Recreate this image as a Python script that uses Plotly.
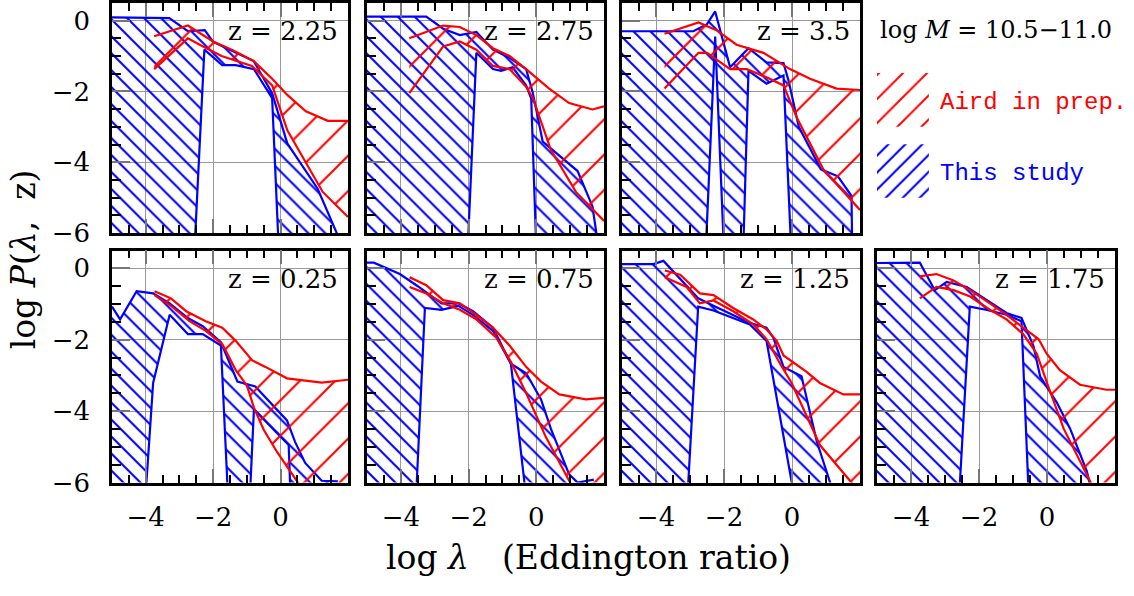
import plotly.graph_objects as go

# ------------------------------------------------------------------ data
# log P values that lie below the plotted range (log P -> -inf) are given as -7.0

# z = 2.25
b225_up_x = [-5.0, -3.3, -2.75, -2.25, -2.0, -1.45, -0.8, -0.25, 0.2, 1.1, 1.8]
b225_up_y = [0.09, 0.07, -0.3, -0.27, -0.6, -0.85, -1.14, -2.05, -3.47, -4.75, -6.3]
b225_lo_x = [-5.0, -2.58, -2.26, -1.73, -1.33, -0.79, -0.25, -0.03, 2.0]
b225_lo_y = [-7.0, -7.0, -0.82, -1.26, -1.26, -1.37, -2.19, -7.0, -7.0]
r225_up_x = [-3.75, -2.75, -2.0, -1.45, -0.8, -0.25, 0.2, 0.75, 1.4, 2.0]
r225_up_y = [-0.44, -0.14, -0.59, -0.82, -1.14, -1.64, -2.1, -2.56, -2.83, -2.83]
r225_lo_x = [-3.75, -2.75, -2.3, -1.75, -0.85, -0.25, 0.2, 0.75, 1.25, 2.0]
r225_lo_y = [-1.37, -0.5, -0.73, -1.0, -1.28, -1.83, -3.1, -4.0, -4.84, -5.55]

# z = 2.75
b275_up_x = [-5.0, -3.25, -2.75, -2.26, -1.77, -1.28, -0.79, -0.3, -0.1, 0.19, 1.22, 1.66, 1.85]
b275_up_y = [0.11, 0.11, -0.23, -0.41, -0.32, -0.82, -1.05, -1.37, -2.05, -3.42, -4.25, -5.25, -6.5]
b275_lo_x = [-5.0, -2.05, -1.77, -1.28, -1.04, -0.7, -0.3, -0.15, 0.02, 2.0]
b275_lo_y = [-7.0, -7.0, -0.91, -1.37, -1.42, -1.32, -1.83, -2.2, -7.0, -7.0]
r275_up_x = [-3.75, -2.75, -2.26, -1.77, -1.28, -0.79, -0.3, 0.38, 0.97, 1.66, 2.0]
r275_up_y = [-0.5, -0.14, -0.18, -0.41, -0.78, -1.0, -1.37, -1.92, -2.33, -2.51, -2.42]
r275_lo_x = [-3.75, -2.75, -2.26, -1.77, -1.28, -0.79, -0.3, -0.1, 0.43, 1.17, 2.0]
r275_lo_y = [-2.05, -0.73, -0.59, -0.82, -1.28, -1.37, -1.87, -2.19, -3.65, -4.84, -5.66]

# z = 3.5
b350_up_x = [-5.0, -2.9, -2.5, -2.26, -1.82, -1.28, -0.75, -0.25, -0.1, 0.2, 0.85, 1.35, 1.75, 1.78]
b350_up_y = [-0.3, -0.3, -0.1, 0.26, -1.32, -0.78, -1.18, -1.2, -1.7, -3.0, -4.2, -4.4, -4.95, -7.0]
b350_lo_x = [-5.0, -2.56, -2.26, -1.98, -1.45, -1.28, -0.75, -0.25, 0.0, 2.0]
b350_lo_y = [-7.0, -7.0, -0.45, -7.0, -7.0, -1.42, -1.78, -1.55, -7.0, -7.0]
r350_up_x = [-3.75, -2.75, -2.22, -1.63, -0.84, -0.06, 0.53, 1.31, 2.0]
r350_up_y = [-0.37, -0.05, -0.27, -0.68, -0.91, -1.37, -1.64, -1.92, -1.96]
r350_lo_x = [-3.75, -2.75, -2.5, -1.82, -1.33, -0.75, -0.25, 0.14, 0.92, 2.0]
r350_lo_y = [-1.92, -0.91, -0.91, -1.37, -1.37, -1.6, -1.83, -2.74, -4.2, -5.35]

# z = 0.25
b025_up_x = [-5.0, -4.76, -4.27, -3.78, -3.29, -2.75, -2.31, -1.77, -1.28, -0.75, 0.19, 0.43, 0.73, 1.22, 1.7]
b025_up_y = [-1.07, -1.43, -0.64, -0.7, -0.98, -1.39, -1.62, -2.07, -3.17, -3.31, -4.26, -4.86, -5.45, -5.95, -5.97]
b025_lo_x = [-5.0, -4.05, -3.78, -3.29, -2.75, -2.31, -1.77, -1.53, -0.94, -0.79, 0.24, 0.32, 2.0]
b025_lo_y = [-7.0, -7.0, -3.21, -1.3, -1.84, -1.84, -2.16, -7.0, -7.0, -3.95, -4.95, -7.0, -7.0]
r025_up_x = [-3.74, -3.25, -2.8, -2.22, -1.73, -1.33, -0.84, -0.45, 0.19, 1.22, 2.0]
r025_up_y = [-0.64, -0.84, -1.2, -1.48, -1.66, -2.03, -2.58, -2.76, -3.08, -3.2, -3.12]
r025_lo_x = [-3.74, -3.25, -2.7, -2.22, -1.73, -1.33, -1.0, -0.79, -0.5, -0.1, 0.55, 0.62, 2.0]
r025_lo_y = [-0.75, -1.05, -1.48, -1.75, -2.12, -2.85, -3.28, -3.9, -4.52, -5.15, -6.05, -7.0, -7.0]

# z = 0.75
b075_up_x = [-5.0, -4.8, -4.03, -3.5, -2.8, -2.3, -1.87, -1.28, -0.75, -0.3, 0.14, 0.43, 0.97, 1.22, 1.7]
b075_up_y = [0.16, 0.16, -0.16, -0.5, -0.98, -0.98, -1.2, -1.66, -2.67, -2.94, -3.67, -4.49, -5.77, -6.0, -5.92]
b075_lo_x = [-5.0, -3.58, -3.29, -2.8, -2.3, -1.87, -1.28, -0.75, -0.23, 2.0]
b075_lo_y = [-7.0, -7.0, -1.11, -1.16, -1.05, -1.3, -1.75, -2.67, -7.0, -7.0]
r075_up_x = [-3.74, -3.25, -2.75, -2.26, -1.77, -1.28, -0.79, -0.3, 0.14, 0.68, 1.46, 2.0]
r075_up_y = [-0.25, -0.47, -0.89, -0.98, -1.3, -1.66, -2.16, -2.76, -3.17, -3.53, -3.67, -3.63]
r075_lo_x = [-3.74, -3.25, -2.75, -2.26, -1.77, -1.18, -0.75, -0.3, 0.28, 1.0, 1.56, 2.0]
r075_lo_y = [-0.52, -0.7, -0.98, -1.16, -1.43, -1.94, -2.62, -3.49, -4.72, -6.0, -7.0, -7.0]

# z = 1.25
b125_up_x = [-5.0, -4.08, -3.78, -2.76, -2.31, -1.24, -0.75, -0.55, -0.25, 0.28, 0.73, 1.46]
b125_up_y = [0.12, 0.12, 0.21, -0.84, -1.05, -1.53, -1.66, -1.94, -2.76, -3.02, -4.85, -7.0]
b125_lo_x = [-5.0, -3.11, -2.76, -2.31, -1.24, -0.75, 0.18, 2.0]
b125_lo_y = [-7.0, -7.0, -1.07, -1.18, -1.57, -2.03, -7.0, -7.0]
r125_up_x = [-3.74, -3.29, -2.71, -2.31, -1.73, -1.14, -0.75, -0.45, -0.25, 0.43, 0.82, 1.51, 2.0]
r125_up_y = [-0.06, -0.18, -0.7, -0.75, -1.11, -1.43, -1.71, -2.03, -2.44, -2.9, -3.21, -3.53, -3.53]
r125_lo_x = [-3.74, -3.1, -2.71, -2.31, -1.73, -1.14, -0.75, -0.35, -0.01, 0.82, 1.75, 2.0]
r125_lo_y = [-0.25, -0.52, -0.98, -0.9, -1.2, -1.57, -1.98, -2.67, -3.21, -4.95, -6.0, -6.3]

# z = 1.75
b175_up_x = [-5.0, -3.74, -3.3, -2.95, -2.36, -1.72, -1.19, -0.75, -0.4, -0.2, 0.29, 0.68, 1.17, 1.5]
b175_up_y = [0.15, 0.16, -0.61, -0.38, -0.52, -0.93, -1.25, -1.39, -2.17, -3.03, -3.76, -4.49, -5.68, -7.0]
b175_lo_x = [-5.0, -2.62, -2.27, -1.8, -1.19, -0.75, -0.51, 2.0]
b175_lo_y = [-7.0, -7.0, -1.07, -1.16, -1.3, -1.48, -7.0, -7.0]
r175_up_x = [-3.74, -3.25, -2.75, -2.26, -1.68, -1.19, -0.7, -0.25, -0.01, 0.38, 0.97, 1.75, 2.0]
r175_up_y = [-0.22, -0.16, -0.34, -0.61, -0.98, -1.3, -1.66, -1.98, -2.39, -2.85, -3.26, -3.4, -3.4]
r175_lo_x = [-3.74, -3.25, -2.75, -2.26, -1.68, -1.19, -0.7, -0.3, 0.0, 0.49, 0.97, 1.55, 2.0]
r175_lo_y = [-0.84, -0.52, -0.61, -0.79, -1.16, -1.43, -1.84, -2.39, -3.21, -4.49, -5.4, -6.5, -7.0]

z_labels = ["2.25", "2.75", "3.5", "0.25", "0.75", "1.25", "1.75"]
x_ticks = [-4, -2, 0]
y_ticks = [0, -2, -4, -6]
mass_label = "log <i>M</i> = 10.5\u221211.0"
series_names = ["Aird in prep.", "This study"]

# panel order: top row (z=2.25, 2.75, 3.5), bottom row (z=0.25 ... 1.75)
blue_data = [
    (b225_up_x, b225_up_y, b225_lo_x, b225_lo_y),
    (b275_up_x, b275_up_y, b275_lo_x, b275_lo_y),
    (b350_up_x, b350_up_y, b350_lo_x, b350_lo_y),
    (b025_up_x, b025_up_y, b025_lo_x, b025_lo_y),
    (b075_up_x, b075_up_y, b075_lo_x, b075_lo_y),
    (b125_up_x, b125_up_y, b125_lo_x, b125_lo_y),
    (b175_up_x, b175_up_y, b175_lo_x, b175_lo_y),
]
red_data = [
    (r225_up_x, r225_up_y, r225_lo_x, r225_lo_y),
    (r275_up_x, r275_up_y, r275_lo_x, r275_lo_y),
    (r350_up_x, r350_up_y, r350_lo_x, r350_lo_y),
    (r025_up_x, r025_up_y, r025_lo_x, r025_lo_y),
    (r075_up_x, r075_up_y, r075_lo_x, r075_lo_y),
    (r125_up_x, r125_up_y, r125_lo_x, r125_lo_y),
    (r175_up_x, r175_up_y, r175_lo_x, r175_lo_y),
]
panel_pos = [(0, 0), (0, 1), (0, 2), (1, 0), (1, 1), (1, 2), (1, 3)]  # (row, col)

# ------------------------------------------------------------------ layout geometry / style
W, H = 1134, 596
COL_PX = [(112, 348), (367, 604), (622, 860), (877, 1115)]
ROW_PX = [(3, 239), (257, 495)]
BLUE = "#0000ff"
RED = "#ff0000"
SERIF = "DejaVu Serif"
MONO = "Liberation Mono"


def dom_x(c):
    return [COL_PX[c][0] / W, COL_PX[c][1] / W]


def dom_y(r):
    return [1 - ROW_PX[r][1] / H, 1 - ROW_PX[r][0] / H]


fig = go.Figure()


def hatch(shape, color, size, solidity):
    return dict(shape=shape, fgcolor=color, fgopacity=1, bgcolor="rgba(0,0,0,0)",
                size=size, solidity=solidity, fillmode="overlay")


def add_region(ux, uy, lx, ly, color, shape, size, solidity, ax):
    xs = list(ux) + list(lx)[::-1]
    ys = list(uy) + list(ly)[::-1]
    fig.add_trace(go.Scatter(
        x=xs, y=ys, mode="none", fill="toself", fillcolor="rgba(0,0,0,0)",
        fillpattern=hatch(shape, color, size, solidity),
        xaxis="x" + ax, yaxis="y" + ax, hoverinfo="skip", showlegend=False))
    for cx, cy in ((ux, uy), (lx, ly)):
        fig.add_trace(go.Scatter(
            x=cx, y=cy, mode="lines", line=dict(color=color, width=2.2),
            xaxis="x" + ax, yaxis="y" + ax, hoverinfo="skip", showlegend=False))


layout = dict(
    width=W, height=H, margin=dict(l=0, r=0, t=0, b=0),
    paper_bgcolor="white", plot_bgcolor="white", showlegend=False,
)
annotations = []

for i, (r, c) in enumerate(panel_pos):
    n = i + 1
    ax = "" if n == 1 else str(n)
    bu_x, bu_y, bl_x, bl_y = blue_data[i]
    ru_x, ru_y, rl_x, rl_y = red_data[i]
    add_region(bu_x, bu_y, bl_x, bl_y, BLUE, "\\", 12, 0.17, ax)
    add_region(ru_x, ru_y, rl_x, rl_y, RED, "/", 25, 0.085, ax)

    layout["xaxis" + ax] = dict(
        domain=dom_x(c), anchor="y" + ax, range=[-5, 2],
        showline=True, linecolor="black", linewidth=2.5, mirror="allticks",
        ticks="inside", ticklen=14, tickwidth=2, tickcolor="#777777",
        tickvals=x_ticks, showticklabels=(r == 1), ticklabelstandoff=10,
        tickfont=dict(family=SERIF, size=26, color="black"),
        showgrid=True, gridcolor="#999999", gridwidth=1, zeroline=False,
        minor=dict(ticks="inside", ticklen=8, tickwidth=1.5, tickcolor="black",
                   dtick=0.5, tick0=0, showgrid=False),
        fixedrange=True,
    )
    layout["yaxis" + ax] = dict(
        domain=dom_y(r), anchor="x" + ax, range=[-6, 0.5],
        showline=True, linecolor="black", linewidth=2.5, mirror=True,
        ticks="inside", ticklen=18, tickwidth=2, tickcolor="#777777",
        tickvals=y_ticks, showticklabels=(c == 0), ticklabelstandoff=14,
        tickfont=dict(family=SERIF, size=26, color="black"),
        showgrid=True, gridcolor="#999999", gridwidth=1, zeroline=False,
        minor=dict(ticks="inside", ticklen=9, tickwidth=1.5, tickcolor="black",
                   dtick=0.5, tick0=0, showgrid=False),
        fixedrange=True,
    )
    annotations.append(dict(
        text="z = " + z_labels[i], xref="x" + ax + " domain", yref="y" + ax + " domain",
        x=0.968, y=0.878, xanchor="right", yanchor="middle", showarrow=False,
        font=dict(family=SERIF, size=26, color="black")))

# legend panel (top-right, no frame)
layout["xaxis8"] = dict(domain=dom_x(3), anchor="y8", range=[0, 1], visible=False, fixedrange=True)
layout["yaxis8"] = dict(domain=dom_y(0), anchor="x8", range=[0, 1], visible=False, fixedrange=True)

SW_X = (0.0, 0.218)
SW_RED_Y = (0.462, 0.695)
SW_BLUE_Y = (0.153, 0.386)
for (y0, y1), color, size, sol in ((SW_RED_Y, RED, 17, 0.12), (SW_BLUE_Y, BLUE, 12, 0.17)):
    fig.add_trace(go.Scatter(
        x=[SW_X[0], SW_X[1], SW_X[1], SW_X[0], SW_X[0]], y=[y0, y0, y1, y1, y0],
        mode="none", fill="toself", fillcolor="rgba(0,0,0,0)",
        fillpattern=hatch("/", color, size, sol),
        xaxis="x8", yaxis="y8", hoverinfo="skip", showlegend=False))

annotations += [
    dict(text=mass_label, xref="paper", yref="paper", x=878 / W, y=1 - 31 / H,
         xanchor="left", yanchor="middle", showarrow=False,
         font=dict(family=SERIF, size=24, color="black")),
    dict(text=series_names[0], xref="paper", yref="paper", x=938 / W, y=1 - 105 / H,
         xanchor="left", yanchor="middle", showarrow=False,
         font=dict(family=MONO, size=24, color=RED)),
    dict(text=series_names[1], xref="paper", yref="paper", x=938 / W, y=1 - 178 / H,
         xanchor="left", yanchor="middle", showarrow=False,
         font=dict(family=MONO, size=24, color=BLUE)),
    dict(text="log <i>P</i>(<i>\u03bb</i>,\u00a0 z)", xref="paper", yref="paper",
         x=23 / W, y=1 - 266 / H, xanchor="center", yanchor="middle", textangle=-90,
         showarrow=False, font=dict(family=SERIF, size=33, color="black")),
    dict(text="log <i>\u03bb</i>\u2003(Eddington ratio)", xref="paper", yref="paper",
         x=588 / W, y=1 - 572 / H, xanchor="center", yanchor="middle",
         showarrow=False, font=dict(family=SERIF, size=33, color="black")),
]
layout["annotations"] = annotations

fig.update_layout(**layout)
fig.write_html("out.html")
